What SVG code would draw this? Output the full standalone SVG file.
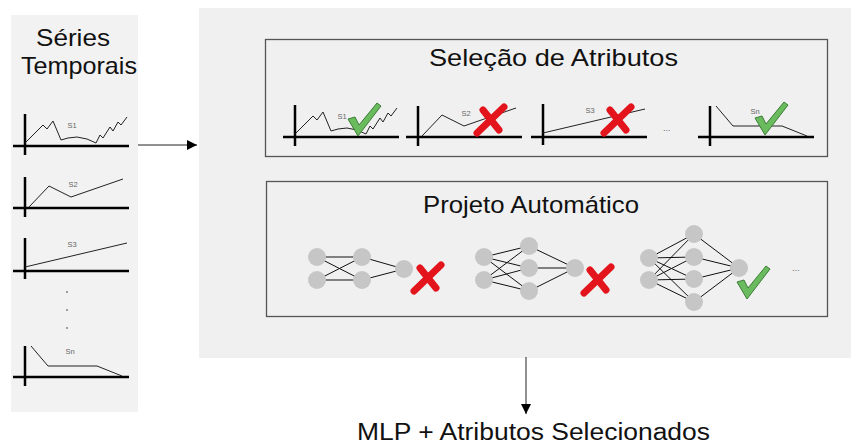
<svg xmlns="http://www.w3.org/2000/svg" xmlns:xlink="http://www.w3.org/1999/xlink" width="851" height="446" viewBox="0 0 851 446">
<style>
.title{font-family:"Liberation Sans",Arial,sans-serif;font-size:24px;fill:#111}
.lbl{font-family:"Liberation Sans",Arial,sans-serif;font-size:7.5px;fill:#666;text-anchor:middle}
.axis{stroke:#000;stroke-width:2.5;fill:none}
.series{stroke:#222;stroke-width:1;fill:none}
.box{fill:#f0f0f0;stroke:#555;stroke-width:1.3}
.node{fill:#c6c6c6}
.edge{stroke:#111;stroke-width:1}
.conn{stroke:#222;stroke-width:1;fill:none}
.dots{font-family:"Liberation Sans",Arial,sans-serif;font-size:9px;fill:#666}
</style>
<defs>
<marker id="arr" viewBox="0 0 10 10" refX="10" refY="5" markerWidth="10" markerHeight="10" markerUnits="userSpaceOnUse" orient="auto">
<path d="M0,0 L10,5 L0,10 z" fill="#000"/>
</marker>
<g id="chart-s1">
<line class="axis" x1="25" y1="114" x2="25" y2="155"/>
<line class="axis" x1="13" y1="146" x2="129" y2="146"/>
<polyline class="series" points="25,143 43,125 47,129 53,121 61,140 68,138 77,137 87,139 96,143 100,135 103,138 110,127 113,131 118,122 121,125 127,117"/>
<text class="lbl" x="72" y="128">S1</text>
</g>
<g id="chart-s2">
<line class="axis" x1="25" y1="177" x2="25" y2="217"/>
<line class="axis" x1="13" y1="208" x2="129" y2="208"/>
<polyline class="series" points="29,207 49,186 71,197 123,179"/>
<text class="lbl" x="73" y="187">S2</text>
</g>
<g id="chart-s3">
<line class="axis" x1="25" y1="238" x2="25" y2="279"/>
<line class="axis" x1="13" y1="271" x2="129" y2="271"/>
<polyline class="series" points="25,267 127,243"/>
<text class="lbl" x="72" y="247">S3</text>
</g>
<g id="chart-sn">
<line class="axis" x1="25" y1="346" x2="25" y2="386"/>
<line class="axis" x1="13" y1="377" x2="129" y2="377"/>
<polyline class="series" points="31,346 48,366 97,366 122,376"/>
<text class="lbl" x="70" y="354">Sn</text>
</g>
<polygon id="check" points="0,16 7,14 11,22 29,0 33,3 10,33" fill="#6aba5e" stroke="#3d7d36" stroke-width="1" stroke-linejoin="round"/>
<g id="cross" stroke="#e3141c" stroke-width="7" stroke-linecap="round">
<line x1="31" y1="3" x2="4" y2="29"/>
<line x1="10" y1="6" x2="26" y2="26"/>
</g>
</defs>

<g id="series-panel">
<rect x="11" y="15" width="127" height="397" fill="#f2f2f2"/>
<text class="title" x="36" y="46" textLength="74" lengthAdjust="spacingAndGlyphs">Séries</text>
<text class="title" x="21" y="74" textLength="116" lengthAdjust="spacingAndGlyphs">Temporais</text>
<use xlink:href="#chart-s1"/>
<use xlink:href="#chart-s2"/>
<use xlink:href="#chart-s3"/>
<circle cx="67" cy="292" r="0.9" fill="#777"/>
<circle cx="67" cy="310" r="0.9" fill="#777"/>
<circle cx="67" cy="328" r="0.9" fill="#777"/>
<use xlink:href="#chart-sn"/>
</g>

<g id="process-panel">
<rect x="199" y="8" width="652" height="350" fill="#f0f0f0"/>
</g>

<g id="selecao">
<rect class="box" x="265.5" y="39.5" width="562" height="117"/>
<text class="title" x="429" y="66" textLength="249" lengthAdjust="spacingAndGlyphs">Seleção de Atributos</text>
<use xlink:href="#chart-s1" transform="translate(270,-9)"/>
<use xlink:href="#check" transform="translate(348,103)"/>
<use xlink:href="#chart-s2" transform="translate(393,-71)"/>
<use xlink:href="#cross" transform="translate(473,104)"/>
<use xlink:href="#chart-s3" transform="translate(518,-134)"/>
<use xlink:href="#cross" transform="translate(600,104)"/>
<text class="dots" x="663" y="131">...</text>
<use xlink:href="#chart-sn" transform="translate(685,-240)"/>
<use xlink:href="#check" transform="translate(755,102)"/>
</g>

<g id="projeto">
<rect class="box" x="266.5" y="181.5" width="561" height="135"/>
<text class="title" x="423" y="213" textLength="216" lengthAdjust="spacingAndGlyphs">Projeto Automático</text>
<g id="net1">
<g class="edge">
<line x1="317" y1="257" x2="362" y2="257"/><line x1="317" y1="257" x2="362" y2="280"/>
<line x1="317" y1="280" x2="362" y2="257"/><line x1="317" y1="280" x2="362" y2="280"/>
<line x1="362" y1="257" x2="404" y2="269"/><line x1="362" y1="280" x2="404" y2="269"/>
</g>
<circle class="node" cx="317" cy="257" r="9"/><circle class="node" cx="317" cy="280" r="9"/>
<circle class="node" cx="362" cy="257" r="9"/><circle class="node" cx="362" cy="280" r="9"/>
<circle class="node" cx="404" cy="269" r="9"/>
<use xlink:href="#cross" transform="translate(410,262)"/>
</g>
<g id="net2">
<g class="edge">
<line x1="484" y1="257" x2="529" y2="246"/><line x1="484" y1="257" x2="529" y2="268"/><line x1="484" y1="257" x2="529" y2="291"/>
<line x1="484" y1="280" x2="529" y2="246"/><line x1="484" y1="280" x2="529" y2="268"/><line x1="484" y1="280" x2="529" y2="291"/>
<line x1="529" y1="246" x2="575" y2="268"/><line x1="529" y1="268" x2="575" y2="268"/><line x1="529" y1="291" x2="575" y2="268"/>
</g>
<circle class="node" cx="484" cy="257" r="9"/><circle class="node" cx="484" cy="280" r="9"/>
<circle class="node" cx="529" cy="246" r="9"/><circle class="node" cx="529" cy="268" r="9"/><circle class="node" cx="529" cy="291" r="9"/>
<circle class="node" cx="575" cy="268" r="9"/>
<use xlink:href="#cross" transform="translate(580,264)"/>
</g>
<g id="net3">
<g class="edge">
<line x1="649" y1="258" x2="694" y2="234"/><line x1="649" y1="258" x2="694" y2="257"/><line x1="649" y1="258" x2="694" y2="279"/><line x1="649" y1="258" x2="694" y2="302"/>
<line x1="649" y1="280" x2="694" y2="234"/><line x1="649" y1="280" x2="694" y2="257"/><line x1="649" y1="280" x2="694" y2="279"/><line x1="649" y1="280" x2="694" y2="302"/>
<line x1="694" y1="234" x2="739" y2="268"/><line x1="694" y1="257" x2="739" y2="268"/><line x1="694" y1="279" x2="739" y2="268"/><line x1="694" y1="302" x2="739" y2="268"/>
</g>
<circle class="node" cx="649" cy="258" r="9"/><circle class="node" cx="649" cy="280" r="9"/>
<circle class="node" cx="694" cy="234" r="9"/><circle class="node" cx="694" cy="257" r="9"/><circle class="node" cx="694" cy="279" r="9"/><circle class="node" cx="694" cy="302" r="9"/>
<circle class="node" cx="739" cy="268" r="9"/>
<use xlink:href="#check" transform="translate(737,266)"/>
</g>
<text class="dots" x="792" y="271">...</text>
</g>

<g id="resultado">
<text class="title" x="357" y="440" font-size="23" style="font-size:23px" textLength="353" lengthAdjust="spacingAndGlyphs">MLP + Atributos Selecionados</text>
</g>

<g id="connectors">
<line class="conn" x1="138" y1="145" x2="197" y2="145" marker-end="url(#arr)"/>
<line class="conn" x1="526" y1="357" x2="526" y2="414" marker-end="url(#arr)"/>
</g>
</svg>
